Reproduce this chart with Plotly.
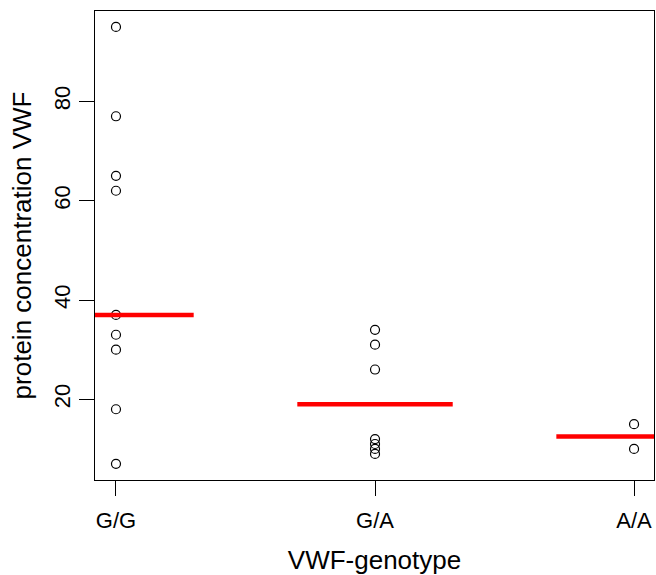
import plotly.graph_objects as go

# ---- data ----
genotypes = ["G/G", "G/A", "A/A"]
gg_values = [95, 77, 65, 62, 37, 33, 30, 18, 7]
ga_values = [34, 31, 26, 12, 11, 10, 9]
aa_values = [15, 10]
center_levels = [37, 19, 12.5]
y_ticks = [20, 40, 60, 80]

groups = [gg_values, ga_values, aa_values]

fig = go.Figure()

# points
for i, vals in enumerate(groups):
    fig.add_trace(go.Scatter(
        x=[i + 1] * len(vals), y=vals, mode="markers",
        marker=dict(symbol="circle-open", size=9, color="black",
                    line=dict(width=1.2, color="black")),
        showlegend=False, hoverinfo="y"))

# red level segments
half = 0.3
sx, sy = [], []
for i, lv in enumerate(center_levels):
    sx += [i + 1 - half, i + 1 + half, None]
    sy += [lv, lv, None]
fig.add_trace(go.Scatter(x=sx, y=sy, mode="lines",
                         line=dict(color="#ff0000", width=4.5),
                         showlegend=False, hoverinfo="skip"))

font = dict(family="Liberation Sans, Arial, sans-serif", size=22, color="black")

fig.update_layout(
    width=656, height=575,
    margin=dict(l=95, r=2, t=11, b=95),
    paper_bgcolor="white", plot_bgcolor="white",
    font=font,
    xaxis=dict(range=[0.919, 3.077], tickvals=[1, 2, 3], ticktext=genotypes,
               showgrid=False, zeroline=False, showline=True, mirror=True,
               linecolor="black", linewidth=1.3, ticks="outside", ticklen=15,
               tickcolor="black", tickwidth=1.3, ticklabelstandoff=5,
               title=dict(text="VWF-genotype", standoff=22),
               automargin=False),
    yaxis=dict(range=[3.75, 98.2], tickvals=y_ticks, tickangle=-90,
               showgrid=False, zeroline=False, showline=True, mirror=True,
               linecolor="black", linewidth=1.3, ticks="outside", ticklen=15,
               tickcolor="black", tickwidth=1.3,
               title=dict(text="protein concentration VWF", standoff=10),
               automargin=False),
)

fig.write_html("out.html", config={"displayModeBar": False},
               post_script="document.body.style.margin='0';document.body.style.overflow='hidden';")
